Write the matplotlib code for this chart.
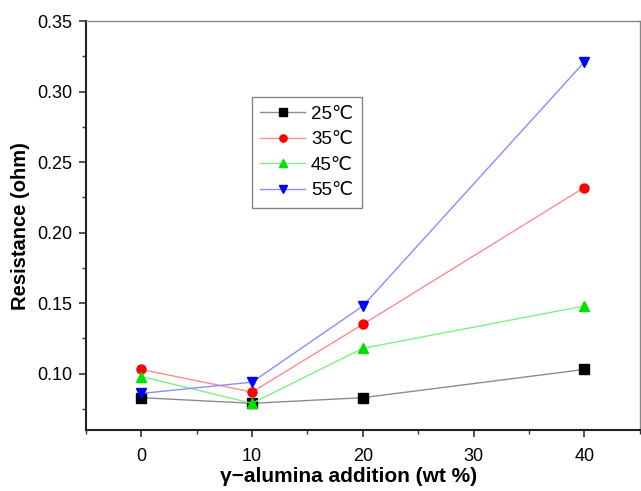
import matplotlib
matplotlib.use("Agg")
import matplotlib.pyplot as plt
from matplotlib.ticker import MultipleLocator, FormatStrFormatter

plt.rcParams["font.family"] = ["Liberation Sans", "DejaVu Sans"]

# resistance vs gamma-alumina content at four temperatures
alumina = [0, 10, 20, 40]
r_25 = [0.083, 0.079, 0.083, 0.103]
r_35 = [0.103, 0.087, 0.135, 0.232]
r_45 = [0.098, 0.079, 0.118, 0.148]
r_55 = [0.086, 0.094, 0.148, 0.321]
labels = ["25℃", "35℃", "45℃", "55℃"]

series = [
    (r_25, "s", "black", "#8c8c8c"),
    (r_35, "o", "red", "#ff8c8c"),
    (r_45, "^", "#00e000", "#80f080"),
    (r_55, "v", "blue", "#8c8cff"),
]

fig = plt.figure(figsize=(6.41, 4.91), dpi=100)
ax = fig.add_axes([0.134, 0.124, 0.864, 0.833])

for (vals, mk, mc, lc), lab in zip(series, labels):
    ax.plot(alumina, vals, color=lc, lw=1.0, marker=mk, ms=6.5,
            mfc=mc, mec=mc, label=lab)

ax.set_xlim(-5, 45)
ax.set_ylim(0.06, 0.35)
ax.set_xticks([0, 10, 20, 30, 40])
ax.set_yticks([0.10, 0.15, 0.20, 0.25, 0.30, 0.35])
ax.yaxis.set_major_formatter(FormatStrFormatter("%.2f"))
ax.xaxis.set_minor_locator(MultipleLocator(5))
ax.yaxis.set_minor_locator(MultipleLocator(0.025))
ax.tick_params(which="major", direction="out", length=5, width=1.2,
               labelsize=13, color="#333333", pad=5)
ax.tick_params(axis="x", which="major", pad=8)
ax.tick_params(which="minor", direction="out", length=3, width=1.0,
               color="#333333")

for side in ("left", "bottom"):
    ax.spines[side].set_linewidth(1.5)
    ax.spines[side].set_color("#222222")
for side in ("top", "right"):
    ax.spines[side].set_linewidth(1.0)
    ax.spines[side].set_color("#888888")

ax.set_xlabel("γ−alumina addition (wt %)", fontsize=15, fontweight="bold",
              labelpad=1.5)
ax.xaxis.label.set_x(0.475)
ax.set_ylabel("Resistance (ohm)", fontsize=14.5, fontweight="bold", labelpad=5)

leg = ax.legend(loc="upper left", bbox_to_anchor=(0.30, 0.814), fontsize=13.5,
                frameon=True, fancybox=False, edgecolor="#666666",
                handlelength=2.4, handletextpad=0.3, labelspacing=0.45,
                borderaxespad=0, borderpad=0.45, markerscale=0.8)
leg.get_frame().set_linewidth(1.0)

fig.savefig("out.png", dpi=100)
